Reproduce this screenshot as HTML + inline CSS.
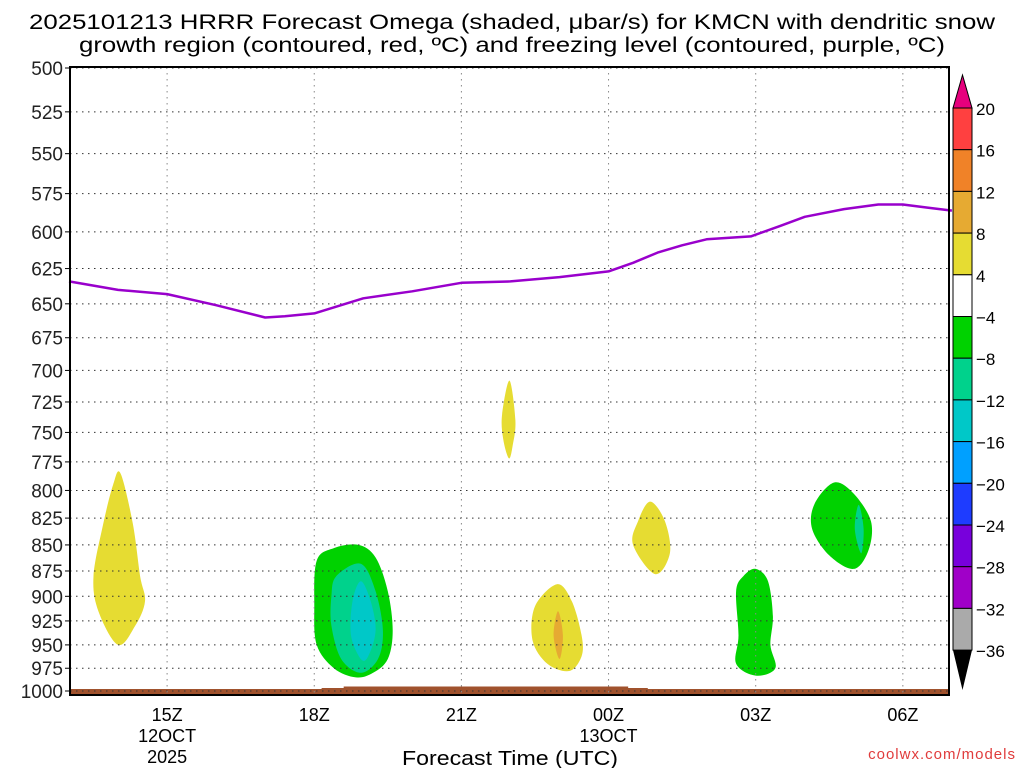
<!DOCTYPE html>
<html><head><meta charset="utf-8"><style>
body{margin:0;background:#fff}
svg{display:block;font-family:"Liberation Sans",sans-serif}
</style></head><body>
<svg id="c" width="1024" height="768" viewBox="0 0 1024 768">
<text x="512" y="29" font-size="21" text-anchor="middle" textLength="966" lengthAdjust="spacingAndGlyphs">2025101213 HRRR Forecast Omega (shaded, μbar/s) for KMCN with dendritic snow</text>
<text x="512" y="52" font-size="21" text-anchor="middle" textLength="866" lengthAdjust="spacingAndGlyphs">growth region (contoured, red, ºC) and freezing level (contoured, purple, ºC)</text>
<g id="plot"></g>
<text x="510" y="765" font-size="20" text-anchor="middle" textLength="216" lengthAdjust="spacingAndGlyphs">Forecast Time (UTC)</text>
<text x="1016" y="759" font-size="15" text-anchor="end" fill="#e03c3c" letter-spacing="1">coolwx.com/models</text>
<g id="cbar"></g>
</svg>
<script>
const pressureTicks=[500,525,550,575,600,625,650,675,700,725,750,775,800,825,850,875,900,925,950,975,1000];
const hourTicks=[15,18,21,24,27,30];
const hourLabels=[["15Z","12OCT","2025"],["18Z"],["21Z"],["00Z","13OCT"],["03Z"],["06Z"]];
const freezeHours=[13,14,15,16,17,17.4,18,19,20,21,22,23,24,24.5,25,25.5,26,26.9,27.5,28,28.8,29.5,30,30.5,31];
const freezeP=[634,640,643,651,660,659,657,646,641,635,634,631,627,621,614,609,605,603,596,590,585,582,582,584,586];
const cbLevels=["20","16","12","8","4","−4","−8","−12","−16","−20","−24","−28","−32","−36"];
const cbColors=["#ff4040","#f08228","#e6aa32","#e6dc32","#ffffff","#00d200","#00d28c","#00c8c8","#00a0ff","#1e3cff","#7800dc","#a000c8","#aaaaaa"];
const blobs=[
 {c:"#e6dc32",pts:[[14.05,785],[14.3,830],[14.45,880],[14.55,905],[14.35,930],[14.0,950],[13.6,915],[13.5,880],[13.7,830],[13.9,795]]},
 {c:"#00d200",pts:[[18.05,865],[18.4,853],[18.9,850],[19.25,862],[19.5,895],[19.6,935],[19.5,965],[19.2,980],[18.85,985],[18.4,975],[18.05,950],[18.0,910]]},
 {c:"#00d28c",pts:[[18.45,880],[18.95,868],[19.25,895],[19.4,935],[19.3,965],[18.95,980],[18.55,965],[18.35,930],[18.35,900]]},
 {c:"#00c8c8",pts:[[18.95,885],[19.15,905],[19.25,935],[19.1,962],[18.95,965],[18.75,940],[18.78,905]]},
 {c:"#e6dc32",pts:[[21.98,708],[22.1,740],[22.05,760],[21.97,772],[21.85,755],[21.83,735]]},
 {c:"#e6dc32",pts:[[22.95,888],[23.25,905],[23.45,940],[23.45,962],[23.2,978],[22.75,970],[22.45,945],[22.5,910]]},
 {c:"#e6aa32",pts:[[22.97,915],[23.07,940],[23.0,965],[22.88,940]]},
 {c:"#e6dc32",pts:[[24.85,810],[25.15,828],[25.25,858],[24.95,878],[24.5,850],[24.6,828]]},
 {c:"#00d200",pts:[[27.0,873],[27.25,885],[27.35,920],[27.3,950],[27.4,975],[27.0,983],[26.6,970],[26.65,940],[26.6,895],[26.75,880]]},
 {c:"#00d200",pts:[[28.6,793],[29.0,803],[29.35,828],[29.3,855],[29.0,873],[28.5,860],[28.15,835],[28.2,812]]},
 {c:"#00d28c",pts:[[29.1,813],[29.2,835],[29.15,858],[29.02,835]]}
];
const L=70,R=949,T=67,B=695;
const xs=h=>69+(h-13)*49.05;
const ys=p=>68+Math.log(p/500)/Math.log(2)*623;
const NS="http://www.w3.org/2000/svg";
function mk(tag,at,par){const e=document.createElementNS(NS,tag);for(const k in at)e.setAttribute(k,at[k]);par.appendChild(e);return e;}
function smooth(P){
 const n=P.length;let d=`M${P[0][0].toFixed(1)},${P[0][1].toFixed(1)}`;
 for(let i=0;i<n;i++){
  const p0=P[(i-1+n)%n],p1=P[i],p2=P[(i+1)%n],p3=P[(i+2)%n];
  const c1=[p1[0]+(p2[0]-p0[0])/6,p1[1]+(p2[1]-p0[1])/6];
  const c2=[p2[0]-(p3[0]-p1[0])/6,p2[1]-(p3[1]-p1[1])/6];
  d+=`C${c1[0].toFixed(1)},${c1[1].toFixed(1)} ${c2[0].toFixed(1)},${c2[1].toFixed(1)} ${p2[0].toFixed(1)},${p2[1].toFixed(1)}`;
 }
 return d+'Z';
}
const plot=document.getElementById('plot');
blobs.forEach((b,i)=>{
 const e=mk('path',{d:smooth(b.pts.map(p=>[xs(p[0]),ys(p[1])])),fill:b.c},plot);
 
 
});
// ground
let g=mk('rect',{x:L,y:689,width:R-L,height:6,fill:"#a0522d"},plot);


g=mk('rect',{x:xs(18.15),y:688,width:xs(24.8)-xs(18.15),height:2,fill:"#a0522d"},plot);


g=mk('rect',{x:xs(18.6),y:686.5,width:xs(24.4)-xs(18.6),height:3,fill:"#a0522d"},plot);


pressureTicks.forEach(p=>{
 const y=ys(p);
 const l=mk('line',{x1:L,x2:R,y1:y,y2:y,stroke:"#333",'stroke-width':1,'stroke-dasharray':"1.5,4.5"},plot);
 
 
 mk('line',{x1:L-5,x2:L,y1:y,y2:y,stroke:"#000"},plot);
 const t=mk('text',{x:L-7,y:y+7,'font-size':19,'text-anchor':'end',fill:"#222"},plot);
 t.textContent=p;
 
 
});
hourTicks.forEach((h,i)=>{
 const x=xs(h);
 const l=mk('line',{x1:x,x2:x,y1:T,y2:B,stroke:"#888",'stroke-width':1,'stroke-dasharray':"1.5,4.5"},plot);
 
 
 hourLabels[i].forEach((s,j)=>{
  const t=mk('text',{x:x,y:721+j*21,'font-size':18,'text-anchor':'middle'},plot);
  t.textContent=s;
  
  
 });
});
const fl=mk('polyline',{points:freezeHours.map((h,i)=>xs(h).toFixed(1)+','+ys(freezeP[i]).toFixed(1)).join(' '),fill:'none',stroke:'#9900cc','stroke-width':2.5,'stroke-linejoin':'round'},plot);


const fr=mk('rect',{x:L,y:T,width:R-L,height:B-T,fill:'none',stroke:'#000','stroke-width':2},plot);


// colorbar
const cb=document.getElementById('cbar');
const cx=953,cw=19,ct=108,ch=41.7;
let tri=mk('polygon',{points:`${cx},${ct} ${cx+cw},${ct} ${cx+cw/2},75`,fill:'#e6007d',stroke:'#000'},cb);


cbColors.forEach((c,i)=>{
 const r=mk('rect',{x:cx,y:ct+i*ch,width:cw,height:ch,fill:c,stroke:'#000','stroke-width':1},cb);
 
 
});
const cbEnd=ct+cbColors.length*ch;
tri=mk('polygon',{points:`${cx},${cbEnd} ${cx+cw},${cbEnd} ${cx+cw/2},690`,fill:'#000'},cb);


cbLevels.forEach((s,i)=>{
 const t=mk('text',{x:976,y:ct+i*ch+7,'font-size':17},cb);
 t.textContent=s;
 
 
});
</script>
</body></html>
